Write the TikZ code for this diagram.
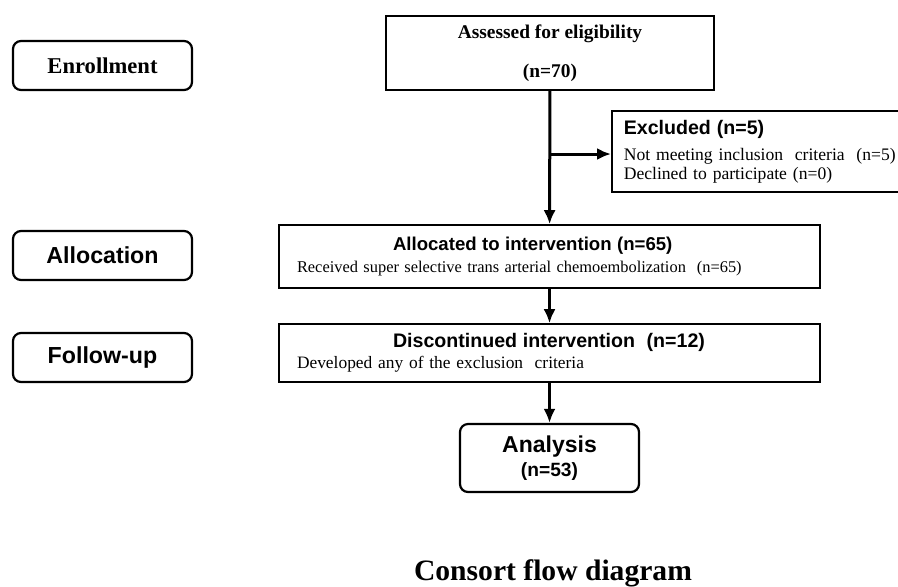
\documentclass[tikz,border=0pt]{standalone}
\usepackage{fontspec}
\setmainfont{Liberation Serif}
\setsansfont{Liberation Sans}
\usetikzlibrary{arrows.meta,positioning,calc}

\begin{document}
\begin{tikzpicture}[x=0.5pt,y=-0.5pt,>={Latex[length=7pt,width=6pt]}]
  \tikzstyle{stage}=[draw,line width=1.1pt,rounded corners=4pt,minimum width=89.5pt,minimum height=24.5pt,inner sep=0pt]
  \tikzstyle{box}=[draw,line width=0.8pt,inner ysep=0pt,align=left]
  \tikzstyle{flow}=[line width=1.5pt,->]
  \useasboundingbox (0,0) rectangle (898,586);
  \clip (0,0) rectangle (898,586);

  % stage labels on the left
  \node[stage,font=\bfseries\fontsize{11.3}{13}\selectfont] (enrol) at (102.5,65.5) {Enrollment};
  \node[stage,font=\sffamily\bfseries\fontsize{11.6}{13}\selectfont] (alloclab) at (102.5,255.5) {Allocation};
  \node[stage,font=\sffamily\bfseries\fontsize{11.6}{13}\selectfont] (followlab) at (102.5,357.5) {Follow-up};

  % main flow
  \node[box,minimum width=164pt,minimum height=37pt,align=center,font=\bfseries\fontsize{9.7}{11}\selectfont] (assess) at (550,53) {Assessed for eligibility\\[8.5pt](n=70)};
  \node[box,anchor=west,minimum width=165pt,minimum height=40.5pt,inner xsep=6pt,text width=153pt,font=\fontsize{8.8}{9.4}\selectfont] (excl) at (611,151.5)
    {{\sffamily\bfseries\fontsize{9.8}{11}\selectfont Excluded (n=5)}\\[3.5pt]Not meeting inclusion\ \ criteria\ \ (n=5)\\Declined to participate (n=0)};
  \node[box,minimum width=270.5pt,minimum height=31.5pt,inner xsep=9pt,text width=252.5pt,font=\fontsize{8.2}{11}\selectfont] (alloc) at (549.5,256.5)
    {\hspace*{48pt}{\sffamily\bfseries\fontsize{9.3}{11}\selectfont Allocated to intervention (n=65)}\\Received super selective trans arterial chemoembolization\ \ (n=65)};
  \node[box,minimum width=270.5pt,minimum height=29pt,inner xsep=9pt,text width=252.5pt,font=\fontsize{8.7}{10.5}\selectfont] (discont) at (549.5,353)
    {\hspace*{48pt}{\sffamily\bfseries\fontsize{9.8}{11}\selectfont Discontinued intervention\ \ (n=12)}\\Developed any of the exclusion\ \ criteria};
  \node[stage,minimum height=34pt,align=center,font=\sffamily\bfseries] (analysis) at (549.5,458)
    {{\fontsize{11.5}{13}\selectfont Analysis}\\{\fontsize{9.6}{11}\selectfont (n=53)}};

  \coordinate (split) at (550,154);
  \draw[flow] (assess) -- (alloc);
  \draw[flow] (split) -- (split -| excl.west);
  \draw[flow] (alloc) -- (discont);
  \draw[flow] (discont) -- (analysis);

  \node[font=\bfseries\fontsize{14.8}{17}\selectfont] (caption) at (553,573) {Consort flow diagram};
\end{tikzpicture}
\end{document}
